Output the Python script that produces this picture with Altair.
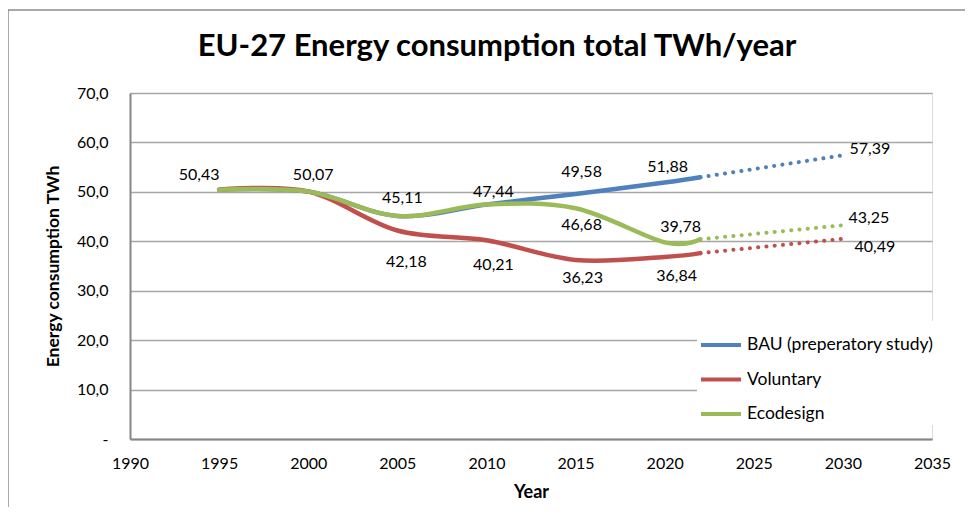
import altair as alt
import pandas as pd

# ---- data ----
series_names = ["BAU (preperatory study)", "Voluntary", "Ecodesign"]
series_colors = ["#4F81BD", "#C0504D", "#9BBB59"]

years_solid = [1995, 2000, 2005, 2010, 2015, 2020, 2022]
bau_solid = [50.43, 50.07, 45.11, 47.44, 49.58, 51.88, 52.95]
vol_solid = [50.43, 50.07, 42.18, 40.21, 36.23, 36.84, 37.6]
eco_solid = [50.43, 50.07, 45.11, 47.44, 46.68, 39.78, 40.4]

years_dotted = [2022, 2030]
bau_dotted = [52.95, 57.39]
vol_dotted = [37.6, 40.49]
eco_dotted = [40.4, 43.25]

# data labels: (series, year, value) and their pixel offsets from the point
label_series = ["BAU (preperatory study)"] * 7 + ["Voluntary"] * 5 + ["Ecodesign"] * 3
label_years = [1995, 2000, 2005, 2010, 2015, 2020, 2030,
               2005, 2010, 2015, 2020, 2030,
               2015, 2020, 2030]
label_values = [50.43, 50.07, 45.11, 47.44, 49.58, 51.88, 57.39,
                42.18, 40.21, 36.23, 36.84, 40.49,
                46.68, 39.78, 43.25]
label_dx = [-20, 5, 5, 7, 6, 3, 27,
            9, 7, 7, 12, 32,
            6, 16, 26]
label_dy = [-15, -17, -18, -13, -22, -16, -6,
            31, 25, 18, 19, 8,
            17, -15, -7]

x_ticks = list(range(1990, 2036, 5))
y_ticks = [0, 10, 20, 30, 40, 50, 60, 70]

# ---- tables ----
solid_rows, dotted_rows = [], []
for name, vals in zip(series_names, [bau_solid, vol_solid, eco_solid]):
    for y, v in zip(years_solid, vals):
        solid_rows.append({"Series": name, "Year": y, "Value": v})
for name, vals in zip(series_names, [bau_dotted, vol_dotted, eco_dotted]):
    for y, v in zip(years_dotted, vals):
        dotted_rows.append({"Series": name, "Year": y, "Value": v})
solid_df = pd.DataFrame(solid_rows)
dotted_df = pd.DataFrame(dotted_rows)
label_df = pd.DataFrame({
    "Series": label_series, "Year": label_years, "Value": label_values,
    "dx": label_dx, "dy": label_dy,
    "Text": [f"{v:.2f}".replace(".", ",") for v in label_values],
})

FONT = "Lato"
W, H = 802, 346
X0, X1, Y0, Y1 = 1990, 2035, 0, 70

x_scale = alt.Scale(domain=[X0, X1], nice=False, zero=False)
y_scale = alt.Scale(domain=[Y0, Y1], nice=False)
color_scale = alt.Scale(domain=series_names, range=series_colors)

x_axis = alt.Axis(values=x_ticks, format="d", title="Year", grid=False,
                  ticks=False, tickSize=0, labelPadding=16, titlePadding=12,
                  labelFont=FONT, labelFontSize=16, labelColor="black",
                  titleFont=FONT, titleFontSize=18, titleFontWeight="bold",
                  titleColor="black", domainColor="#868686", domainWidth=2,
                  labelFlush=False)
y_axis = alt.Axis(values=y_ticks, title="Energy consumption TWh", grid=True,
                  gridColor="#A6A6A6", gridWidth=1.3,
                  ticks=False, tickSize=0, labelPadding=22, titlePadding=14,
                  labelExpr="datum.value == 0 ? '-' : replace(format(datum.value, '.1f'), '.', ',')",
                  labelFont=FONT, labelFontSize=16, labelColor="black",
                  titleFont=FONT, titleFontSize=17.5, titleFontWeight="bold",
                  titleColor="black", domainColor="#868686", domainWidth=2)

x_enc = alt.X("Year:Q", scale=x_scale, axis=x_axis)
y_enc = alt.Y("Value:Q", scale=y_scale, axis=y_axis)

color_enc = alt.Color("Series:N", scale=color_scale,
                      legend=alt.Legend(title=None, orient="none", legendX=567, legendY=228,
                                        symbolType="stroke", symbolSize=1600,
                                        symbolStrokeWidth=4, rowPadding=3.5,
                                        labelFont=FONT, labelFontSize=17.5, labelColor="black",
                                        labelOffset=4, padding=2, fillColor="white",
                                        labelLimit=400))

layers = []
for name in series_names:
    solid = alt.Chart(solid_df).transform_filter(alt.datum.Series == name).mark_line(
        interpolate="cardinal", strokeWidth=4.5, strokeCap="round"
    ).encode(x=x_enc, y=y_enc, color=color_enc, order="Year:Q")
    dotted = alt.Chart(dotted_df).transform_filter(alt.datum.Series == name).mark_line(
        strokeWidth=4, strokeDash=[0.1, 8.2], strokeCap="round"
    ).encode(x=x_enc, y=y_enc, color=color_enc, order="Year:Q")
    layers += [solid, dotted]

# label anchor = data point shifted by its pixel offset (converted through the axis spans)
labels = alt.Chart(label_df).transform_calculate(
    LX=f"datum.Year + datum.dx * {(X1 - X0) / W}",
    LY=f"datum.Value - datum.dy * {(Y1 - Y0) / H}",
).mark_text(font=FONT, fontSize=16, color="black",
            baseline="middle", align="center").encode(
    x=alt.X("LX:Q", scale=x_scale, axis=x_axis),
    y=alt.Y("LY:Q", scale=y_scale, axis=y_axis),
    text="Text:N",
)

frame_df = pd.DataFrame({"a": [0]})
frame_top = alt.Chart(frame_df).mark_rule(color="#8C8C8C", strokeWidth=1.5).encode(
    x=alt.value(-122), x2=alt.value(W + 60), y=alt.value(-83))
frame_left = alt.Chart(frame_df).mark_rule(color="#8C8C8C", strokeWidth=1.5).encode(
    x=alt.value(-122), y=alt.value(-83), y2=alt.value(H + 80))

chart = alt.layer(*layers, labels, frame_top, frame_left).properties(
    width=W, height=H,
    title=alt.TitleParams("EU-27 Energy consumption total TWh/year", font=FONT,
                          fontSize=31, fontWeight="bold", color="black",
                          anchor="middle", dx=-34, dy=54, offset=0),
    autosize=alt.AutoSizeParams(type="none"),
    padding={"left": 122, "top": 85, "right": 33, "bottom": 68},
).configure_view(stroke=None).configure(background="white")

chart.save("out.html", embed_options={"renderer": "svg", "actions": False})
